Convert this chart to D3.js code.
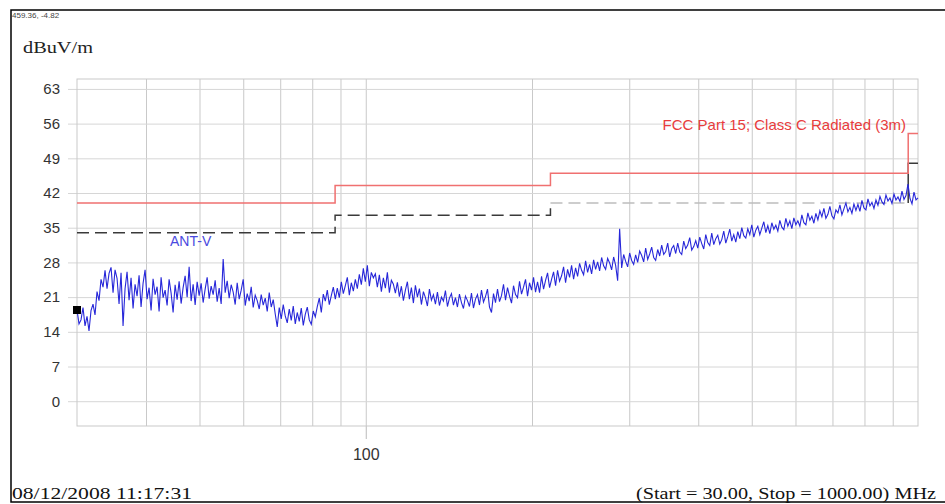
<!DOCTYPE html>
<html>
<head>
<meta charset="utf-8">
<script src="https://cdn.jsdelivr.net/npm/d3@7"></script>
<style>
  body { margin: 0; background: #fff; }
  svg { display: block; }
</style>
</head>
<body>
<div id="container"></div>
<script>
// sweep parameters (from the footer)
const sweepStart = 30;
const sweepStop = 1000;

// axis ticks
const yTickValues = [0, 7, 14, 21, 28, 35, 42, 49, 56, 63];
const xGridValues = [40, 50, 60, 70, 80, 90, 100, 200, 300, 400, 500, 600, 700, 800, 900];
const xLabelValues = [100];

// limit lines: band edges in MHz and level in dBuV/m for each band
const limitEdges = [30, 88, 216, 960, 1000];
const fccLimit = [40, 43.5, 46, 54];
const marginLimit = [34, 37.5, 40, 48];

const traceValues = [
  18.4, 15.6, 16.4, 18.9, 15.2, 17.1, 14.2, 18.3, 19.6, 17.4,
  22.1, 20.3, 24.6, 23.0, 26.4, 22.7, 25.8, 27.0, 21.9, 26.5,
  24.8, 19.6, 25.9, 15.2, 22.7, 26.1, 20.4, 24.9, 18.7, 23.6,
  21.2, 25.4, 19.0, 23.8, 26.5, 20.6, 22.9, 18.3, 24.7, 21.5,
  23.1, 18.1, 25.0, 20.9, 22.4, 19.3, 24.6, 21.8, 17.9, 23.5,
  20.5, 24.2, 19.7, 22.9, 25.3, 21.0, 27.1, 20.2, 23.6, 19.4,
  24.1, 21.3, 23.8, 19.9, 22.6, 25.0, 20.7, 23.2, 21.5, 24.4,
  20.1, 22.8, 19.6, 28.7, 21.9, 24.3, 20.8, 23.5, 22.0, 19.5,
  23.9, 20.6, 22.4, 24.6, 19.3, 21.7, 20.2, 23.1, 18.9, 21.4,
  20.3, 18.6, 21.5, 19.4, 20.8, 18.1, 21.9, 19.0, 20.5, 17.6,
  15.0, 18.9, 16.6, 19.5, 17.2, 15.8, 18.6, 16.3, 19.2, 15.6,
  17.9, 16.1, 18.8, 15.3, 17.5, 19.0, 16.4, 15.5, 18.2, 17.0,
  19.1, 20.8, 17.9, 21.6, 20.2, 22.4, 19.5, 21.3, 23.0, 20.6,
  22.8, 20.9, 24.1, 21.7, 23.3, 25.0, 21.4, 23.9, 22.2, 24.6,
  22.7, 25.6, 23.5, 26.8, 24.1, 27.4, 23.2, 26.0, 24.9, 25.7,
  23.0, 25.5, 22.1, 24.9, 22.8, 26.0, 21.9, 24.4, 23.6, 21.8,
  24.0, 21.1, 23.2, 20.3, 22.4, 24.1, 20.6, 22.9, 19.8, 23.4,
  21.0, 22.7, 19.5, 22.1, 20.9, 19.2, 22.6, 20.4, 21.5, 19.6,
  22.0, 19.3, 21.0, 20.2, 22.3, 19.1, 20.8, 21.7, 19.4, 20.9,
  19.0, 21.6, 19.9, 18.7, 21.2, 20.3, 19.1, 21.8, 18.8, 20.6,
  21.5, 19.4, 22.4, 20.0, 21.1, 22.6, 19.0, 17.9, 21.7, 19.9,
  22.6, 20.1, 21.3, 23.6, 20.4, 22.9, 21.2, 19.8, 23.3, 21.5,
  20.9, 24.2, 21.6, 23.0, 24.6, 21.2, 23.9, 22.4, 25.0, 22.0,
  24.1, 21.9, 25.2, 22.6, 24.4, 25.9, 22.9, 24.6, 26.1, 23.3,
  26.4, 24.2, 25.3, 27.1, 23.9, 26.6, 25.0, 27.4, 24.6, 26.9,
  25.2, 27.8, 26.4, 25.5, 28.3, 26.0, 27.6, 25.7, 28.5, 26.6,
  28.1, 26.3, 29.0, 27.3, 26.6, 28.8, 27.9, 26.5, 29.1, 27.4,
  24.3, 34.8, 26.9, 29.6, 28.2, 27.1, 29.9, 28.4, 27.6, 29.5,
  28.0, 30.3, 29.4, 28.1, 30.9, 28.6, 29.7, 31.1, 29.0, 28.4,
  30.6, 29.3, 31.5, 29.6, 30.2, 31.9, 29.1, 30.8, 31.4, 29.8,
  31.9, 30.1, 29.6, 32.3, 30.8, 31.5, 33.0, 30.5, 31.2, 32.4,
  30.9, 33.1, 31.8, 30.7, 33.6, 32.0, 31.4, 33.9, 31.6, 32.8,
  33.5, 31.7, 32.6, 34.3, 31.9, 33.2, 34.7, 32.3, 33.6, 32.1,
  34.2, 32.8, 35.0, 33.4, 32.9, 34.8, 33.6, 35.6, 33.1, 34.5,
  35.3, 33.6, 34.9, 36.2, 34.0, 35.4, 33.8, 36.0, 34.7, 35.5,
  34.3, 36.5, 35.1, 34.6, 36.9, 35.3, 36.4, 34.8, 37.0, 35.6,
  36.4, 35.3, 37.6, 36.0, 35.6, 38.0, 36.5, 37.3, 35.9, 37.9,
  36.6, 38.4, 37.2, 38.9, 36.9, 37.7, 39.3, 37.4, 36.8, 38.6,
  38.0, 39.6, 37.6, 38.8, 40.0, 38.2, 39.1, 37.9, 39.8, 38.5,
  39.7, 38.3, 40.5, 39.0, 38.6, 40.8, 39.4, 40.1, 38.9, 40.6,
  39.5, 41.3, 40.2, 39.7, 41.6, 40.4, 41.0, 39.9, 41.8, 40.6,
  41.2, 40.3, 42.4, 40.7, 41.5, 43.8, 40.9, 39.8, 42.2, 40.6,
  41.0
];

const width = 945, height = 504;
const plot = { left: 77, right: 918, top: 79, bottom: 426 };

const svg = d3.select("#container")
  .append("svg")
  .attr("width", width)
  .attr("height", height);

// outer frame (right side runs past the picture)
svg.append("rect")
  .attr("x", 11).attr("y", 10)
  .attr("width", 945).attr("height", 492)
  .attr("fill", "#fff")
  .attr("stroke", "#000")
  .attr("stroke-width", 1.5);

const x = d3.scaleLog().domain([sweepStart, sweepStop]).range([plot.left, plot.right]);
const y = d3.scaleLinear().domain([-5, 65]).range([plot.bottom, plot.top]);

// vertical grid
svg.append("g")
  .attr("transform", `translate(0,${plot.bottom})`)
  .call(d3.axisBottom(x).tickValues(xGridValues).tickSize(-(plot.bottom - plot.top)).tickFormat(""))
  .call(g => g.select(".domain").remove())
  .call(g => g.selectAll("line").attr("stroke", "#c9c9c9"));

// horizontal grid + y labels
svg.append("g")
  .attr("transform", `translate(68,0)`)
  .call(d3.axisLeft(y).tickValues(yTickValues).tickSize(-(plot.right - 68)).tickPadding(8))
  .call(g => g.select(".domain").remove())
  .call(g => g.selectAll("line").attr("stroke", "#d6d6d6"))
  .call(g => g.selectAll("text")
    .attr("fill", "#333")
    .style("font-family", "Liberation Sans, Arial, sans-serif")
    .style("font-size", "15px"));

// x label (only 100)
svg.append("g")
  .attr("transform", `translate(0,${plot.bottom})`)
  .call(d3.axisBottom(x).tickValues(xLabelValues).tickSize(13).tickPadding(10).tickFormat(d3.format("d")))
  .call(g => g.select(".domain").remove())
  .call(g => g.selectAll("line").attr("stroke", "#bbb"))
  .call(g => g.selectAll("text")
    .attr("fill", "#333")
    .style("font-family", "Liberation Sans, Arial, sans-serif")
    .style("font-size", "16px"));

// plot border
svg.append("rect")
  .attr("x", plot.left).attr("y", plot.top)
  .attr("width", plot.right - plot.left).attr("height", plot.bottom - plot.top)
  .attr("fill", "none")
  .attr("stroke", "#c9c9c9");

const stepLine = d3.line()
  .x(d => x(d[0]))
  .y(d => y(d[1]))
  .curve(d3.curveStepAfter);

function steps(levels, from, to) {
  const pts = [];
  for (let i = from; i < to; i++) pts.push([limitEdges[i], levels[i]]);
  pts.push([limitEdges[to], levels[to - 1]]);
  return pts;
}

// margin line (dashed), drawn in pieces: dark, light, dark
const dashDark = "#3a3a3a", dashLight = "#bdbdbd";
svg.append("path")
  .attr("d", stepLine(steps(marginLimit, 0, 2)) + "V" + y(marginLimit[2]))
  .attr("fill", "none").attr("stroke", dashDark)
  .attr("stroke-width", 1.5).attr("stroke-dasharray", "12,6");
svg.append("path")
  .attr("d", stepLine(steps(marginLimit, 2, 3)))
  .attr("fill", "none").attr("stroke", dashLight)
  .attr("stroke-width", 1.5).attr("stroke-dasharray", "12,6");
svg.append("path")
  .attr("d", "M" + x(limitEdges[3]) + "," + y(marginLimit[2]) + stepLine(steps(marginLimit, 3, 4)).replace(/^M/, "L"))
  .attr("fill", "none").attr("stroke", dashDark)
  .attr("stroke-width", 1.5);

// trace
const n = traceValues.length;
const trace = traceValues.map((v, i) => [sweepStart * Math.pow(sweepStop / sweepStart, i / (n - 1)), v]);

svg.append("path")
  .datum(trace)
  .attr("d", d3.line().x(d => x(d[0])).y(d => y(d[1])))
  .attr("fill", "none")
  .attr("stroke", "#2727d9")
  .attr("stroke-width", 1.1);

// FCC limit (solid red)
svg.append("path")
  .attr("d", stepLine(steps(fccLimit, 0, 4)))
  .attr("fill", "none")
  .attr("stroke", "#f07070")
  .attr("stroke-width", 1.5);

// marker at the first point
svg.append("rect")
  .attr("x", x(trace[0][0]) - 4).attr("y", y(trace[0][1]) - 4)
  .attr("width", 8).attr("height", 8)
  .attr("fill", "#000");

// labels
svg.append("text")
  .attr("x", 170).attr("y", 246)
  .attr("fill", "#4a4ae0")
  .style("font-family", "Liberation Sans, Arial, sans-serif")
  .style("font-size", "14px")
  .text("ANT-V");

svg.append("text")
  .attr("x", 906).attr("y", 130)
  .attr("text-anchor", "end")
  .attr("fill", "#e83c3c")
  .style("font-family", "Liberation Sans, Arial, sans-serif")
  .style("font-size", "15px")
  .text("FCC Part 15; Class C Radiated (3m)");

svg.append("text")
  .attr("x", 12).attr("y", 18)
  .attr("fill", "#444")
  .style("font-family", "Liberation Sans, Arial, sans-serif")
  .style("font-size", "8px")
  .text("459.36, -4.82");

svg.append("text")
  .attr("x", 23).attr("y", 53)
  .attr("fill", "#222")
  .attr("textLength", 70).attr("lengthAdjust", "spacingAndGlyphs")
  .style("font-family", "Liberation Serif, Times New Roman, serif")
  .style("font-size", "17px")
  .text("dBuV/m");

svg.append("text")
  .attr("x", 12).attr("y", 499)
  .attr("fill", "#111")
  .attr("textLength", 180).attr("lengthAdjust", "spacingAndGlyphs")
  .style("font-family", "Liberation Serif, Times New Roman, serif")
  .style("font-size", "16px")
  .text("08/12/2008 11:17:31");

svg.append("text")
  .attr("x", 636).attr("y", 499)
  .attr("fill", "#111")
  .attr("textLength", 300).attr("lengthAdjust", "spacingAndGlyphs")
  .style("font-family", "Liberation Serif, Times New Roman, serif")
  .style("font-size", "16px")
  .text("(Start = 30.00, Stop = 1000.00) MHz");
</script>
</body>
</html>
